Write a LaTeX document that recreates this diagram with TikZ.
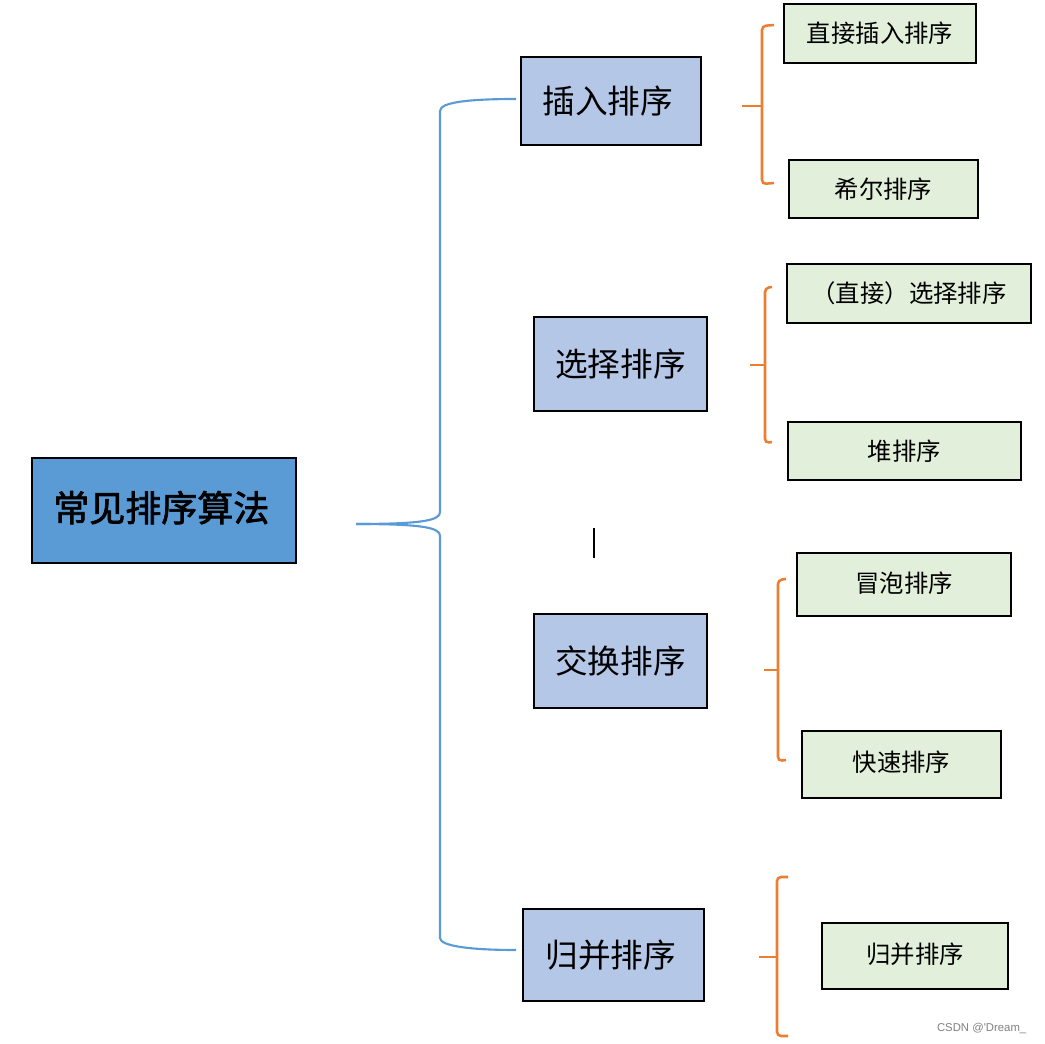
\documentclass[tikz,border=0pt]{standalone}
\usepackage{fontspec}
\newfontfamily\cjk[AutoFakeBold=2]{Noto Sans CJK SC}
\newfontfamily\wmfont{Liberation Sans}
\usetikzlibrary{calc}
\definecolor{mainblue}{HTML}{5B9BD5}
\definecolor{lvlblue}{HTML}{B4C7E7}
\definecolor{lvlgreen}{HTML}{E2EFDA}
\definecolor{braceorange}{HTML}{ED7D31}
\newcommand{\up}[2]{\raisebox{#1}{#2}}
\tikzset{
  box/.style={draw=black, line width=1.5pt, inner sep=0pt, rectangle},
  mainbox/.style={box, fill=mainblue, font=\cjk\bfseries\fontsize{27}{30}\selectfont},
  lvlbox/.style={box, fill=lvlblue, font=\cjk\fontsize{24.5}{28}\selectfont},
  leafbox/.style={box, fill=lvlgreen, font=\cjk\fontsize{18.3}{22}\selectfont},
  bluebrace/.style={draw=mainblue, line width=1.6pt},
  orangebrace/.style={draw=braceorange, line width=1.9pt, rounded corners=3pt},
}
\begin{document}
\begin{tikzpicture}[x=0.75pt, y=-0.75pt]
\useasboundingbox (0,0) rectangle (1045,1044);
% nodes
\node[mainbox, minimum width=198pt, minimum height=78.75pt] (main) at (164,510.5) {\hspace*{-4pt}\up{6.5pt}{常见排序算法}};
\node[lvlbox, minimum width=135pt, minimum height=66pt] (ins) at (611,101) {\hspace*{-5pt}插入排序};
\node[lvlbox, minimum width=129.75pt, minimum height=70.5pt] (sel) at (620.5,364) {\up{1pt}{选择排序}};
\node[lvlbox, minimum width=129.75pt, minimum height=70.5pt] (swp) at (620.5,661) {\up{1pt}{交换排序}};
\node[lvlbox, minimum width=135.75pt, minimum height=69pt] (mrg) at (613.5,955) {\hspace*{-4pt}归并排序};
\node[leafbox, minimum width=144pt, minimum height=44.25pt] (g1) at (880,33.5) {\up{1.5pt}{直接插入排序}};
\node[leafbox, minimum width=141.75pt, minimum height=43.5pt] (g2) at (883.5,189) {\up{1.5pt}{希尔排序}};
\node[leafbox, minimum width=183pt, minimum height=44.25pt] (g3) at (909,293.5) {\up{1pt}{（直接）选择排序}};
\node[leafbox, minimum width=174.75pt, minimum height=43.5pt] (g4) at (904.5,451) {\up{1.5pt}{堆排序}};
\node[leafbox, minimum width=160.5pt, minimum height=47.25pt] (g5) at (904,584.5) {\up{3.4pt}{冒泡排序}};
\node[leafbox, minimum width=149.25pt, minimum height=50.25pt] (g6) at (901.5,764.5) {\up{4.5pt}{快速排序}};
\node[leafbox, minimum width=139.5pt, minimum height=49.5pt] (g7) at (915,956) {\up{4.5pt}{归并排序}};
% blue brace
\coordinate (tip) at (356,524);
\draw[bluebrace] (tip) .. controls (425,524) and (440,520) .. (440,512)
  -- (440,111) .. controls (440,102) and (470,99) .. ($(ins.west)+(-4,-2)$);
\draw[bluebrace] (tip) .. controls (425,524) and (440,528) .. (440,536)
  -- (440,938) .. controls (440,946) and (470,950) .. ($(mrg.west)+(-6,-5)$);
% orange braces
\coordinate (t1) at (742,106);
\draw[orangebrace] (t1) -- (762,106);
\draw[orangebrace] ($(g1.north west)+(-9,22)$) -- (762,26) -- (762,184) -- ($(g2.north west)+(-14,24)$);
\coordinate (t2) at (750,365);
\draw[orangebrace] (t2) -- (765,365);
\draw[orangebrace] ($(g3.north west)+(-14,24)$) -- (765,288) -- (765,443) -- ($(g4.north west)+(-15,21)$);
\coordinate (t3) at (764,670);
\draw[orangebrace] (t3) -- (778,670);
\draw[orangebrace] ($(g5.north west)+(-10,27)$) -- (778,580) -- (778,761) -- ($(g6.north west)+(-15,30)$);
\coordinate (t4) at (759,957);
\draw[orangebrace] (t4) -- (777,957);
\draw[orangebrace] (788,877) -- (777,877) -- (777,1036) -- (788,1036);
% cursor mark
\coordinate (c1) at (594,528);
\coordinate (c2) at (594,558);
\draw[line width=1.5pt] (c1) -- (c2);
% watermark
\node[text=gray, font=\wmfont\fontsize{8.5}{10}\selectfont, anchor=east] (wm) at (1031,1029) {CSDN @\symbol{39}Dream\_};
\end{tikzpicture}
\end{document}
